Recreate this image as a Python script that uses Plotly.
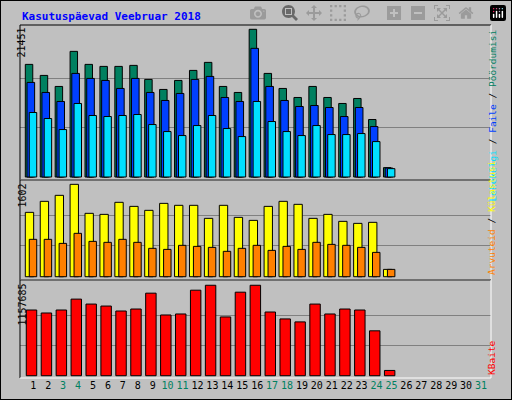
import plotly.graph_objects as go

days = list(range(1, 32))
hits = [16355, 14753, 13152, 18247, 16355, 16063, 16063, 16209, 14171, 12715, 14025, 15481, 16646,
        13152, 12278, 21451, 15044, 12860, 11550, 13152, 11550, 10677, 11405, 8347, 1359]
files = [13734, 12278, 10968, 15044, 14316, 14025, 12860, 14316, 12278, 11113, 12133, 14171, 14608,
         11550, 10968, 18684, 13152, 11113, 10240, 10385, 10094, 8784, 10094, 7328, 1300]
pages = [9366, 8493, 6891, 10677, 8930, 8784, 8930, 9075, 7619, 6600, 6018, 7474, 8930,
         7037, 5872, 10968, 8056, 6600, 6018, 7474, 6163, 6163, 6309, 5144, 1213]
visits = [1116, 1307, 1411, 1602, 1099, 1081, 1290, 1220, 1151, 1272, 1238, 1238, 1012,
          1238, 1029, 977, 1220, 1307, 1255, 1012, 1081, 960, 925, 943, 127]
sites = [648, 648, 578, 752, 613, 596, 648, 596, 492, 474, 544, 526, 509,
         440, 492, 544, 457, 526, 474, 596, 561, 544, 509, 422, 127]
kbytes = [840775, 802750, 840775, 980200, 916825, 891475, 828100, 853450, 1056250, 777400, 790075,
          1094275, 1157685, 752050, 1068925, 1157685, 815425, 726700, 688675, 916825, 790075,
          853450, 840775, 574600, 67600]
weekend = [3, 4, 10, 11, 17, 18, 24, 25, 31]

W, H = 512, 400
def px(x): return x / W
def py(y): return 1 - y / H

d = days[:len(hits)]
fig = go.Figure()
def bar(y, color, off, wid, ax):
    fig.add_trace(go.Bar(x=d, y=y, marker=dict(color=color, line=dict(color='black', width=1)),
                         offset=off, width=wid, xaxis='x' if ax == 'y' else 'x' + ax[1:], yaxis=ax))

bar(hits, '#008060', -0.535, 0.5, 'y')
bar(files, '#0040FF', -0.42, 0.51, 'y')
bar(pages, '#00E0FF', -0.27, 0.5, 'y')
bar(visits, '#FFFF00', -0.535, 0.56, 'y2')
bar(sites, '#FF8000', -0.27, 0.5, 'y2')
bar(kbytes, '#FF0000', -0.47, 0.7, 'y3')

xr = [0.109, 31.67]
xd = [px(20), px(491)]
ticktext = [f"<span style='color:{'#008060' if n in weekend else 'black'}'>{n}</span>" for n in days]
common_x = dict(range=xr, domain=xd, showgrid=False, zeroline=False, fixedrange=True)
fig.update_layout(
    width=W, height=H, margin=dict(l=0, r=0, t=0, b=0),
    paper_bgcolor='#C0C0C0', plot_bgcolor='#C0C0C0', showlegend=False, barmode='overlay',
    font=dict(family='DejaVu Sans Mono', size=10, color='black'),
    xaxis=dict(common_x, anchor='y', showticklabels=False),
    xaxis2=dict(common_x, anchor='y2', showticklabels=False),
    xaxis3=dict(common_x, anchor='y3', tickvals=days, ticktext=ticktext, ticks='', tickfont=dict(size=10)),
    yaxis=dict(domain=[py(180), py(25)], range=[-436, 22075], tickvals=[7150, 14300],
               showticklabels=False, gridcolor='#808080', zeroline=False),
    yaxis2=dict(domain=[py(280), py(180)], range=[-57, 1677], tickvals=[534, 1068],
                showticklabels=False, gridcolor='#808080', zeroline=False),
    yaxis3=dict(domain=[py(378), py(280)], range=[-29132, 1224815], tickvals=[385895, 771790],
                showticklabels=False, gridcolor='#808080', zeroline=False),
)

shapes = [dict(type='rect', xref='paper', yref='paper', x0=0, x1=1, y0=0, y1=1,
               line=dict(color='black', width=2))]
for top, bot in [(25, 180), (180, 280), (280, 378)]:
    shapes.append(dict(type='line', xref='paper', yref='paper', x0=px(20), x1=px(491), y0=py(top), y1=py(top), line=dict(color='black', width=1)))
    shapes.append(dict(type='line', xref='paper', yref='paper', x0=px(20), x1=px(20), y0=py(top), y1=py(bot), line=dict(color='black', width=1)))
    shapes.append(dict(type='line', xref='paper', yref='paper', x0=px(491), x1=px(491), y0=py(top), y1=py(bot), line=dict(color='white', width=1)))
    shapes.append(dict(type='line', xref='paper', yref='paper', x0=px(20), x1=px(491), y0=py(bot), y1=py(bot), line=dict(color='white', width=1)))
fig.update_layout(shapes=shapes)

ann = [
    dict(x=px(20), y=py(8), text='<b>Kasutuspäevad Veebruar 2018</b>', xanchor='left', yanchor='top',
         font=dict(color='#0000FF', size=11)),
    dict(x=px(14), y=py(26), text='21451', textangle=-90, yanchor='top'),
    dict(x=px(14), y=py(182), text='1602', textangle=-90, yanchor='top'),
    dict(x=px(14), y=py(282), text='1157685', textangle=-90, yanchor='top'),
    dict(x=px(499), y=py(28), textangle=-90, yanchor='top', font=dict(size=9.5),
         text="<span style='color:#00E0FF'>Lehekülgi</span> / <span style='color:#0040FF'>Faile</span> / "
              "<span style='color:#008060'>Pöördumisi</span>"),
    dict(x=px(499), y=py(277), textangle=-90, yanchor='bottom', font=dict(size=9.5),
         text="<span style='color:#FF8000'>Arvuteid</span> / <span style='color:#FFFF00'>Külastusi</span>"),
    dict(x=px(499), y=py(377), textangle=-90, yanchor='bottom', font=dict(size=9.5, color='#FF0000'),
         text='KBaite'),
]
for a in ann:
    a.update(xref='paper', yref='paper', showarrow=False)
fig.update_layout(annotations=ann)

fig.write_html("out.html", post_script="document.body.style.margin='0';document.body.style.overflow='hidden';")
